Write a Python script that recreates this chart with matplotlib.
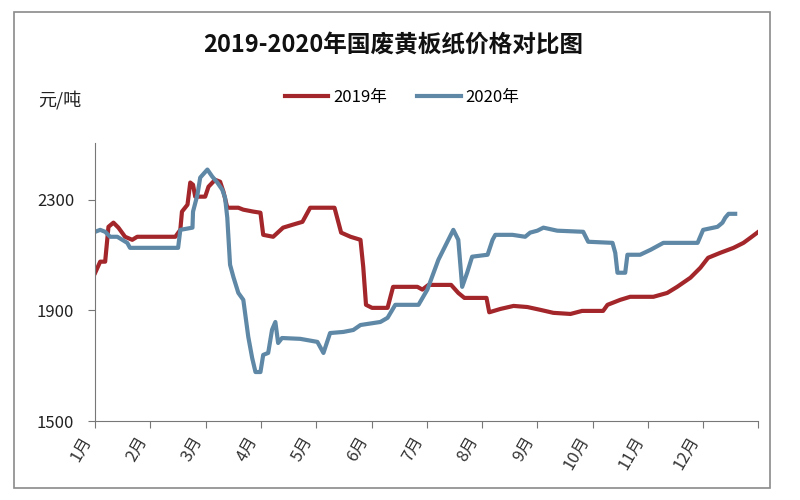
import matplotlib
matplotlib.use("Agg")
import matplotlib.pyplot as plt
from matplotlib.patches import Rectangle

plt.rcParams['font.family'] = ['Noto Sans CJK SC', 'DejaVu Sans']

# === 数据 (x 为月份位置, 0 = 1月初) ===
x_2019 = [0.00, 0.09, 0.18, 0.24, 0.33, 0.42, 0.54, 0.67, 0.76, 1.45, 1.54, 1.57,
          1.67, 1.72, 1.77, 1.81, 1.99, 2.05, 2.17, 2.26, 2.32, 2.39, 2.59, 2.68,
          2.86, 2.99, 3.04, 3.22, 3.40, 3.58, 3.75, 3.89, 4.33, 4.45, 4.62, 4.80,
          4.85, 4.90, 5.01, 5.29, 5.39, 5.83, 5.92, 6.03, 6.44, 6.57, 6.68, 7.08,
          7.13, 7.33, 7.57, 7.82, 8.05, 8.29, 8.60, 8.81, 9.19, 9.27, 9.50, 9.68,
          10.10, 10.35, 10.53, 10.77, 10.95, 11.09, 11.31, 11.55, 11.73, 11.86, 12.00]
y_2019 = [2036, 2076, 2076, 2202, 2217, 2199, 2166, 2155, 2166, 2166, 2191, 2257,
          2282, 2362, 2354, 2311, 2311, 2347, 2372, 2365, 2329, 2271, 2271, 2264,
          2257, 2253, 2173, 2166, 2199, 2210, 2220, 2271, 2271, 2181, 2166, 2155,
          2057, 1920, 1909, 1909, 1985, 1985, 1975, 1992, 1992, 1963, 1945, 1945,
          1893, 1905, 1916, 1912, 1902, 1891, 1887, 1898, 1898, 1920, 1938, 1949,
          1949, 1963, 1985, 2018, 2054, 2090, 2108, 2126, 2144, 2163, 2184]

x_2020 = [0.00, 0.09, 0.18, 0.27, 0.40, 0.49, 0.58, 0.63, 1.50, 1.54, 1.76, 1.77,
          1.85, 1.90, 2.03, 2.12, 2.21, 2.30, 2.35, 2.39, 2.44, 2.50, 2.59, 2.68,
          2.77, 2.84, 2.90, 2.99, 3.04, 3.13, 3.20, 3.26, 3.31, 3.38, 3.71, 4.02,
          4.13, 4.25, 4.49, 4.67, 4.80, 5.16, 5.29, 5.43, 5.85, 6.01, 6.21, 6.48,
          6.57, 6.64, 6.73, 6.82, 7.10, 7.19, 7.24, 7.55, 7.78, 7.87, 8.00, 8.11,
          8.36, 8.83, 8.92, 9.36, 9.41, 9.45, 9.59, 9.63, 9.86, 10.05, 10.28, 10.64,
          10.90, 11.00, 11.26, 11.35, 11.40, 11.46, 11.58]
y_2020 = [2184, 2191, 2184, 2166, 2166, 2155, 2144, 2126, 2126, 2191, 2199, 2257,
          2318, 2380, 2409, 2383, 2362, 2336, 2307, 2235, 2065, 2021, 1963, 1938,
          1804, 1728, 1677, 1677, 1739, 1746, 1830, 1858, 1782, 1800, 1797, 1786,
          1746, 1818, 1822, 1829, 1847, 1858, 1873, 1920, 1920, 1975, 2083, 2191,
          2155, 1985, 2036, 2094, 2101, 2155, 2173, 2173, 2166, 2181, 2188, 2199,
          2188, 2184, 2148, 2144, 2108, 2036, 2036, 2101, 2101, 2119, 2144, 2144,
          2144, 2191, 2202, 2217, 2235, 2249, 2249]

month_labels = ['1月', '2月', '3月', '4月', '5月', '6月', '7月', '8月', '9月',
                '10月', '11月', '12月', '']
y_ticks = [1500, 1900, 2300]

# === 图形 ===
fig = plt.figure(figsize=(8, 5), dpi=100)
fig.patches.append(Rectangle((0.018, 0.024), 0.945, 0.952, transform=fig.transFigure,
                             fill=False, edgecolor='#8a8a8a', linewidth=1.2))

ax = fig.add_axes([0.119, 0.158, 0.829, 0.556])
ax.plot(x_2019, y_2019, color='#a3262b', linewidth=3, label='2019年')
ax.plot(x_2020, y_2020, color='#5e88a6', linewidth=3, label='2020年')

ax.set_xlim(0, 12)
ax.set_ylim(1500, 2505)
ax.set_xticks(range(13))
ax.set_xticklabels(month_labels, rotation=60, ha='right', va='top',
                   fontsize=12, color='#333333', style='italic')
ax.set_yticks(y_ticks)
ax.set_yticklabels([str(v) for v in y_ticks], fontsize=12, color='#222222')

for s in ['top', 'right']:
    ax.spines[s].set_visible(False)
for s in ['left', 'bottom']:
    ax.spines[s].set_color('#777777')
ax.tick_params(axis='both', colors='#777777', length=5)
ax.tick_params(axis='y', pad=10, labelcolor='#222222')
ax.tick_params(axis='x', pad=4, labelcolor='#333333')

fig.text(0.492, 0.91, '2019-2020年国废黄板纸价格对比图', ha='center', va='center',
         fontsize=17, fontweight='bold', color='#111111')
fig.text(0.048, 0.80, '元/吨', ha='left', va='center', fontsize=13, color='#222222')

ax.legend(loc='center', bbox_to_anchor=(0.463, 1.165), ncol=2, frameon=False,
          fontsize=12, handlelength=2.6, columnspacing=1.8, handletextpad=0.3)

plt.savefig('out.png', dpi=100)
